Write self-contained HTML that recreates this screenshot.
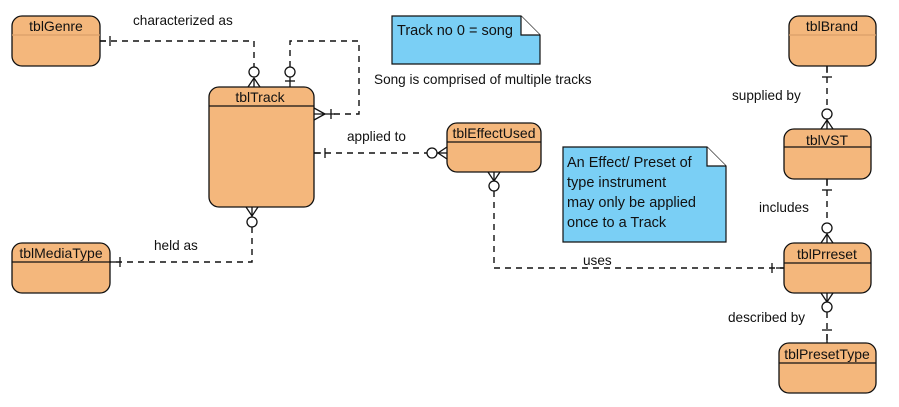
<!DOCTYPE html>
<html><head><meta charset="utf-8"><style>
html,body{margin:0;padding:0;background:#fff;}
svg{display:block;}
text{font-family:"Liberation Sans",Arial,sans-serif;fill:#111;}
</style></head><body>
<svg width="899" height="407" viewBox="0 0 899 407" xmlns="http://www.w3.org/2000/svg">
<g fill="none" stroke="#111" stroke-width="1.4" stroke-dasharray="6,5">
<polyline points="100,41 254,41 254,67"/>
<polyline points="290,67 290,41 359,41 359,114 331,114"/>
<line x1="314" y1="153" x2="427" y2="153"/>
<polyline points="494,191 494,268 784,268"/>
<polyline points="252,227 252,262 110,262"/>
<line x1="827" y1="66" x2="827" y2="109"/>
<line x1="827" y1="179" x2="827" y2="223"/>
<line x1="827" y1="312" x2="827" y2="343"/>
</g>

<g fill="none" stroke="#111" stroke-width="1.3">
<line x1="100" y1="41" x2="106" y2="41"/>
<line x1="110" y1="36" x2="110" y2="46"/>
<circle cx="254" cy="72" r="5" fill="#fff"/>
<polyline points="248,87 254,78 260,87"/><line x1="254" y1="78" x2="254" y2="87"/>
<circle cx="290" cy="72" r="5" fill="#fff"/>
<line x1="290" y1="77" x2="290" y2="87"/>
<line x1="285" y1="81" x2="295" y2="81"/>
<polyline points="314,108 325,114 314,120"/><line x1="314" y1="114" x2="335" y2="114"/>
<line x1="331" y1="109" x2="331" y2="119"/>
<line x1="314" y1="153" x2="321" y2="153"/>
<line x1="325" y1="148" x2="325" y2="158"/>
<circle cx="432" cy="153" r="5" fill="#fff"/>
<polyline points="447,147 438,153 447,159"/><line x1="437" y1="153" x2="447" y2="153"/>
<polyline points="488,172 494,181 500,172"/><line x1="494" y1="172" x2="494" y2="181"/>
<circle cx="494" cy="186" r="5" fill="#fff"/>
<line x1="772" y1="263" x2="772" y2="273"/>
<line x1="776" y1="268" x2="784" y2="268"/>
<polyline points="246,207 252,216 258,207"/><line x1="252" y1="207" x2="252" y2="217"/>
<circle cx="252" cy="222" r="5" fill="#fff"/>
<line x1="110" y1="262" x2="116" y2="262"/>
<line x1="120" y1="257" x2="120" y2="267"/>
<line x1="827" y1="66" x2="827" y2="73"/>
<line x1="822" y1="77" x2="832" y2="77"/>
<circle cx="827" cy="114" r="5" fill="#fff"/>
<polyline points="821,129 827,120 833,129"/><line x1="827" y1="119" x2="827" y2="129"/>
<line x1="827" y1="179" x2="827" y2="186"/>
<line x1="822" y1="190" x2="832" y2="190"/>
<circle cx="827" cy="228" r="5" fill="#fff"/>
<polyline points="821,243 827,234 833,243"/><line x1="827" y1="233" x2="827" y2="243"/>
<polyline points="821,293 827,302 833,293"/><line x1="827" y1="293" x2="827" y2="302"/>
<circle cx="827" cy="307" r="5" fill="#fff"/>
<line x1="822" y1="330" x2="832" y2="330"/>
<line x1="827" y1="334" x2="827" y2="343"/>
</g>

<g stroke="#111" stroke-width="1.3" fill="#f4b77c">
<rect x="12" y="16" width="88" height="50" rx="10"/>
<rect x="209" y="87" width="105" height="120" rx="10"/>
<rect x="447" y="123" width="94" height="49" rx="10"/>
<rect x="12" y="243" width="98" height="50" rx="10"/>
<rect x="789" y="16" width="87" height="50" rx="10"/>
<rect x="784" y="129" width="87" height="50" rx="10"/>
<rect x="784" y="243" width="87" height="50" rx="10"/>
<rect x="779" y="343" width="97" height="50" rx="10"/>
</g>
<g stroke-width="1.2">
<line x1="12" y1="35" x2="100" y2="35" stroke="#d9a06a"/>
<line x1="789" y1="35" x2="876" y2="35" stroke="#d9a06a"/>
<line x1="209" y1="106" x2="314" y2="106" stroke="#111"/>
<line x1="447" y1="142" x2="541" y2="142" stroke="#111"/>
<line x1="12" y1="262" x2="110" y2="262" stroke="#111"/>
<line x1="784" y1="147" x2="871" y2="147" stroke="#111"/>
<line x1="784" y1="263" x2="871" y2="263" stroke="#111"/>
<line x1="779" y1="363" x2="876" y2="363" stroke="#111"/>
</g>
<g font-size="14" text-anchor="middle">
<text x="56" y="31">tblGenre</text>
<text x="260" y="102">tblTrack</text>
<text x="494" y="138">tblEffectUsed</text>
<text x="61" y="258">tblMediaType</text>
<text x="832" y="31">tblBrand</text>
<text x="827" y="145">tblVST</text>
<text x="827" y="259">tblPrreset</text>
<text x="827" y="359">tblPresetType</text>
</g>

<g stroke="#111" stroke-width="1.2">
<path d="M392,16 L521,16 L540,35 L540,64 L392,64 Z" fill="#7acff5"/>
<path d="M521,16 L521,35 L540,35" fill="#fff"/>
<path d="M563,147 L707,147 L726,166 L726,242 L563,242 Z" fill="#7acff5"/>
<path d="M707,147 L707,166 L726,166" fill="#fff"/>
</g>
<g font-size="14.5">
<text x="397" y="35">Track no 0 = song</text>
<text x="567" y="167">An Effect/ Preset of</text>
<text x="567" y="187">type instrument</text>
<text x="567" y="207">may only be applied</text>
<text x="567" y="227">once to a Track</text>
</g>

<g font-size="13.6">
<text x="374" y="84">Song is comprised of multiple tracks</text>
<text x="133" y="25">characterized as</text>
<text x="347" y="141">applied to</text>
<text x="583" y="265">uses</text>
<text x="154" y="250">held as</text>
<text x="732" y="100">supplied by</text>
<text x="759" y="212">includes</text>
<text x="728" y="322">described by</text>
</g>
</svg>
</body></html>
